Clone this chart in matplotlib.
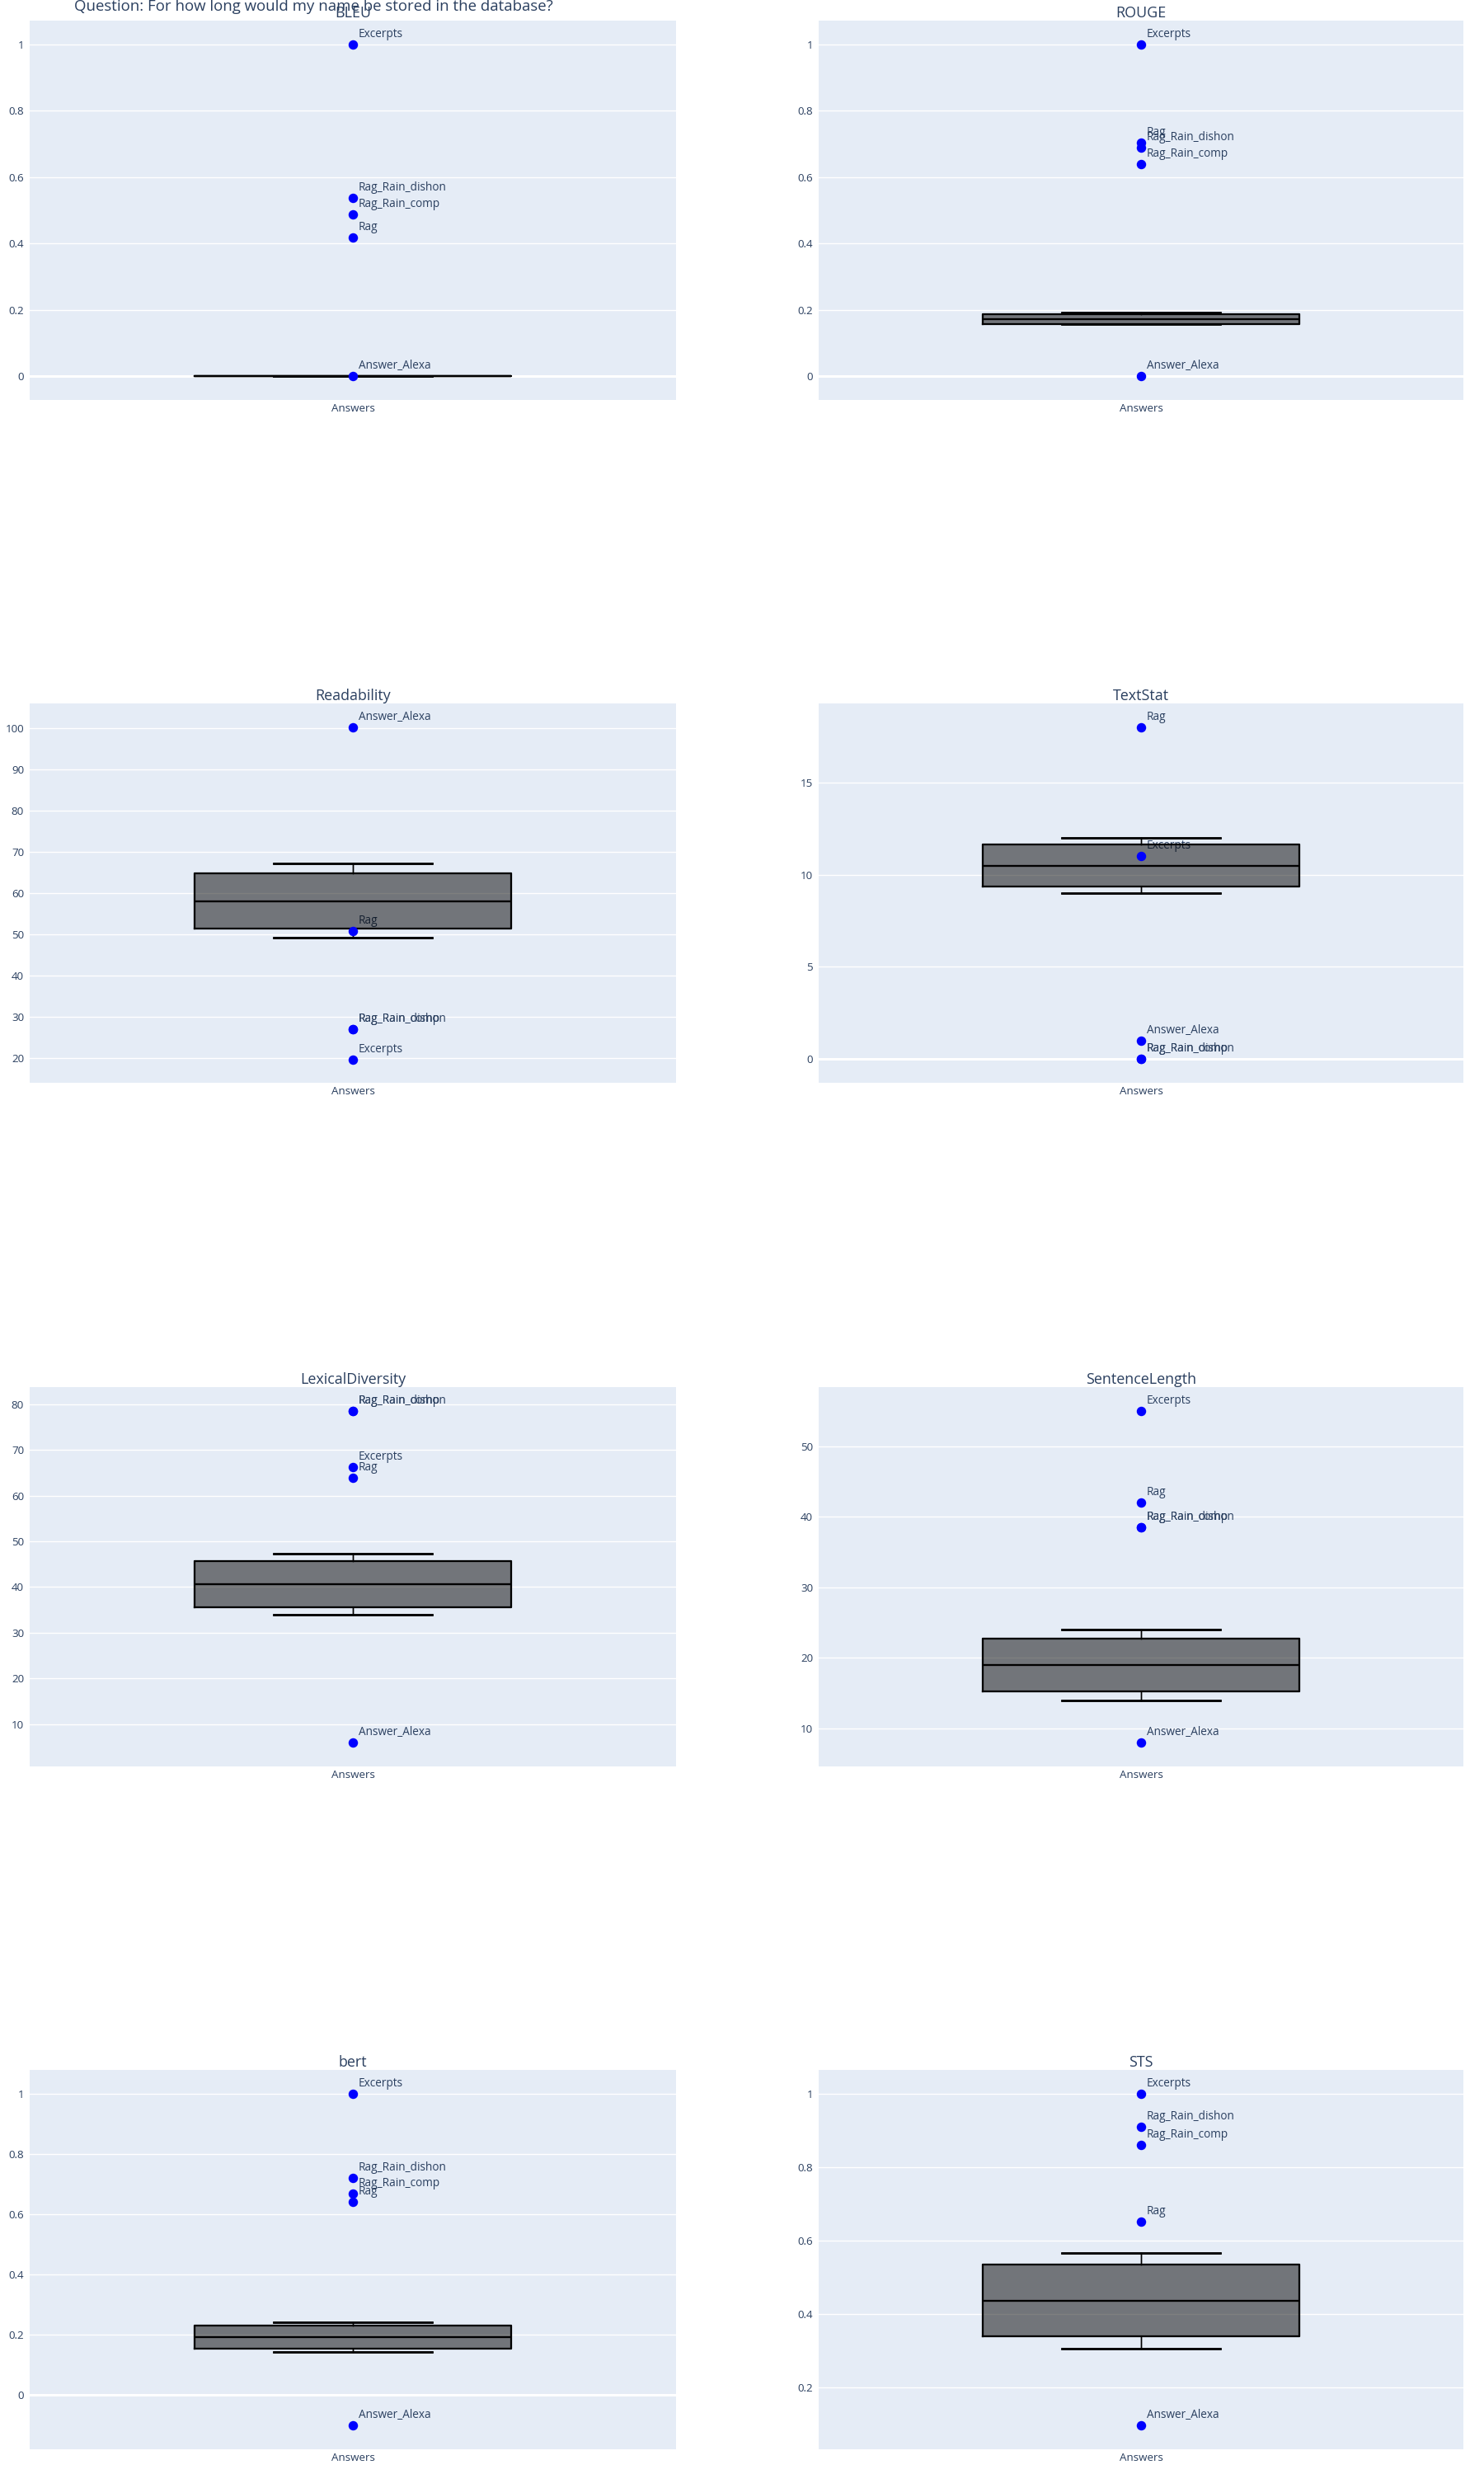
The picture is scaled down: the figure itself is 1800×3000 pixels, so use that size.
import matplotlib
matplotlib.use('Agg')
import matplotlib.pyplot as plt
from matplotlib.ticker import FuncFormatter, MultipleLocator

# answer names, same order in every metric
answers = ['Answer_Alexa', 'Excerpts', 'Rag', 'Rag_Rain_comp', 'Rag_Rain_dishon']

# metric names (subplot titles)
metrics = ['BLEU', 'ROUGE', 'Readability', 'TextStat',
           'LexicalDiversity', 'SentenceLength', 'bert', 'STS']

# per-answer scores
bleu = [0.0, 1.0, 0.417, 0.488, 0.538]
rouge = [0.0, 1.0, 0.703, 0.639, 0.690]
readability = [100.2, 19.7, 50.85, 27.0, 27.0]
textstat = [1.0, 11.0, 18.0, 0.0, 0.0]
lexical = [6.0, 66.2, 63.9, 78.4, 78.4]
sentence = [8.0, 55.0, 42.0, 38.5, 38.5]
bert = [-0.102, 1.0, 0.641, 0.670, 0.720]
sts = [0.0965, 1.0, 0.652, 0.861, 0.911]

# reference box stats: whislo, q1, median, q3, whishi
bleu_box = [0.0, 0.0, 0.0, 0.0, 0.0]
rouge_box = [0.156, 0.158, 0.172, 0.187, 0.1915]
readability_box = [49.2, 51.45, 58.1, 64.9, 67.3]
textstat_box = [9.0, 9.36, 10.5, 11.63, 12.0]
lexical_box = [33.9, 35.6, 40.6, 45.6, 47.3]
sentence_box = [14.0, 15.26, 19.0, 22.7, 24.0]
bert_box = [0.1418, 0.1546, 0.192, 0.2296, 0.2425]
sts_box = [0.306, 0.339, 0.436, 0.534, 0.566]

scores = [bleu, rouge, readability, textstat, lexical, sentence, bert, sts]
boxes = [bleu_box, rouge_box, readability_box, textstat_box,
         lexical_box, sentence_box, bert_box, sts_box]

# axis ranges and tick steps as shown
ylims = [(-0.072, 1.072), (-0.072, 1.072), (14.0, 106.0), (-1.30, 19.31),
         (0.8, 83.7), (4.6, 58.4), (-0.181, 1.080), (0.032, 1.065)]
steps = [0.2, 0.2, 10, 5, 10, 10, 0.2, 0.2]

TXT = '#2a3f5f'
BG = '#E5ECF6'
FONT = 'Open Sans'

plt.rcParams['font.family'] = [FONT, 'DejaVu Sans']

W, H = 1800, 3000
fig = plt.figure(figsize=(W / 100, H / 100), dpi=100)

col_x = [(36, 820), (993, 1775)]
row_top = [25, 853, 1682, 2510]
ax_h = 460


def fmt(v, _):
    if abs(v) < 1e-9:
        return '0'
    return f'{round(v, 6):g}'


for i, name in enumerate(metrics):
    r, c = divmod(i, 2)
    x0, x1 = col_x[c]
    top = row_top[r]
    ax = fig.add_axes([x0 / W, 1 - (top + ax_h) / H, (x1 - x0) / W, ax_h / H])
    ax.set_facecolor(BG)
    for s in ax.spines.values():
        s.set_visible(False)

    lo, hi = ylims[i]
    ax.set_ylim(lo, hi)
    ax.set_xlim(-0.5, 0.5)
    ax.yaxis.set_major_locator(MultipleLocator(steps[i]))
    ax.yaxis.set_major_formatter(FuncFormatter(fmt))
    ax.grid(axis='y', color='white', linewidth=1.0, zorder=0)
    ax.set_axisbelow(True)
    if lo < 0 < hi:
        ax.axhline(0, color='white', linewidth=2.2, zorder=0.5)

    ax.set_xticks([0])
    ax.set_xticklabels(['Answers'])
    ax.tick_params(length=0, labelsize=9.6, labelcolor=TXT, pad=5)
    ax.tick_params(axis='x', pad=3)

    b = boxes[i]
    stats = [dict(whislo=b[0], q1=b[1], med=b[2], q3=b[3], whishi=b[4],
                  fliers=[])]
    ax.bxp(stats, positions=[0], widths=0.49, capwidths=0.245,
           patch_artist=True, showfliers=False, manage_ticks=False, zorder=3,
           boxprops=dict(facecolor='black', alpha=0.5, edgecolor='black',
                         linewidth=1.5),
           medianprops=dict(color='black', linewidth=1.5),
           whiskerprops=dict(color='black', linewidth=1.0),
           capprops=dict(color='black', linewidth=1.8))
    # opaque outline on top of the translucent fill
    ax.bxp(stats, positions=[0], widths=0.49, capwidths=0.245,
           showfliers=False, manage_ticks=False, zorder=3.5,
           boxprops=dict(color='black', linewidth=1.6),
           medianprops=dict(color='black', linewidth=1.6),
           whiskerprops=dict(color='black', linewidth=1.0),
           capprops=dict(color='black', linewidth=1.8))

    vals = scores[i]
    ax.scatter([0] * len(vals), vals, s=68, color='blue', zorder=4,
               linewidths=0)
    for lab, v in zip(answers, vals):
        ax.annotate(lab, (0, v), xytext=(7, 5), textcoords='offset pixels',
                    ha='left', va='bottom', fontsize=9.8, color=TXT,
                    zorder=2)

    ax.set_title(name, fontsize=12.9, color=TXT, pad=3)

fig.text(90 / W, 1 - 13 / H,
         'Question: For how long would my name be stored in the database?',
         fontsize=13.4, color=TXT, ha='left', va='baseline')

fig.savefig('out.png', dpi=100, facecolor='white')
